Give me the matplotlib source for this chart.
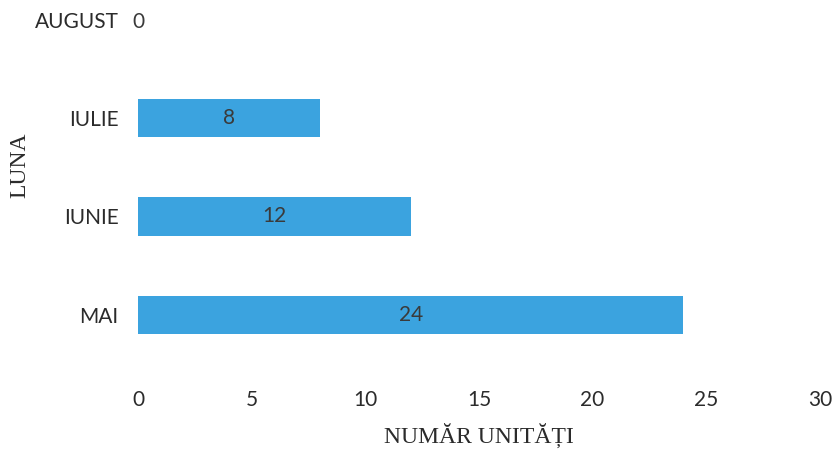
import matplotlib
matplotlib.use("Agg")
import matplotlib.pyplot as plt

# Data
luni = ["MAI", "IUNIE", "IULIE", "AUGUST"]
unitati = [24, 12, 8, 0]
x_ticks = [0, 5, 10, 15, 20, 25, 30]

bar_color = "#3ba3df"
tick_font = ["Lato", "DejaVu Sans"]
label_font = ["Liberation Serif", "DejaVu Serif"]

fig = plt.figure(figsize=(8.34, 4.5), dpi=100)
ax = fig.add_axes([0.1655, 0.191, 0.8175, 0.798])

bars = ax.barh(range(len(luni)), unitati, height=0.39, color=bar_color)
ax.bar_label(bars, labels=[str(v) for v in unitati], label_type="center",
             color="#3a3a3a", fontsize=15, family=tick_font)

ax.set_xlim(0, 30)
ax.set_ylim(-0.5, 3.15)
ax.set_xticks(x_ticks)
ax.set_yticks(range(len(luni)))
ax.set_yticklabels(luni)

for lbl in ax.get_xticklabels() + ax.get_yticklabels():
    lbl.set_family(tick_font)
    lbl.set_fontsize(15)
    lbl.set_color("#2b2b2b")

ax.tick_params(axis="x", length=0, pad=19)
ax.tick_params(axis="y", length=0, pad=14)
for s in ax.spines.values():
    s.set_visible(False)

ax.set_xlabel("NUMĂR UNITĂȚI", family=label_font, fontsize=17, color="#2b2b2b")
ax.xaxis.set_label_coords(0.5, -0.163)
ax.set_ylabel("LUNA", family=label_font, fontsize=17, color="#2b2b2b")
ax.yaxis.set_label_coords(-0.158, 0.554)

fig.savefig("out.png", dpi=100)
